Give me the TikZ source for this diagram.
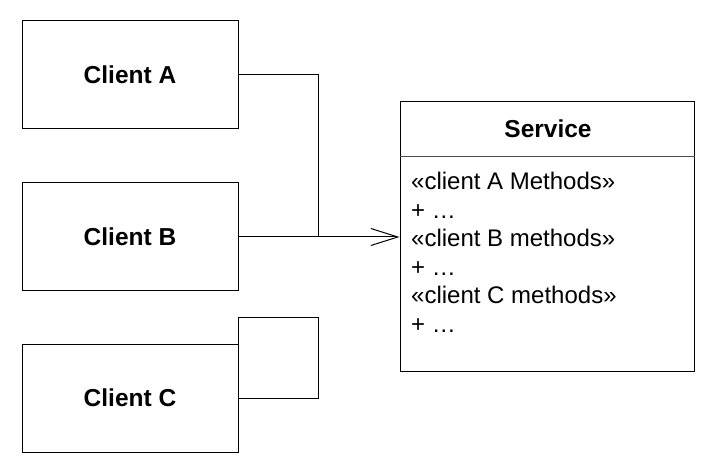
\documentclass[tikz,border=0pt]{standalone}
\usepackage{fontspec}
\setmainfont{Liberation Sans}
\usetikzlibrary{arrows.meta}

\tikzset{
  client/.style={draw, line width=1pt, minimum width=216pt, minimum height=108pt,
    inner sep=0pt, font=\fontsize{24.5}{28}\selectfont\bfseries},
  classbox/.style={draw, line width=1pt, minimum width=294pt, minimum height=269pt,
    inner sep=0pt},
  member/.style={anchor=base west, inner sep=0pt, font=\fontsize{24}{28}\selectfont},
  link/.style={line width=1pt}
}

\begin{document}
\begin{tikzpicture}[x=1pt,y=-1pt]
  \useasboundingbox (0,0) rectangle (720,470);

  % clients
  \node[client] (clientA) at (130,75) {Client A};
  \node[client] (clientB) at (130,237) {Client B};
  \node[client] (clientC) at (130,398) {Client C};

  % service class
  \node[classbox] (service) at (547,236.5) {};
  \node[font=\fontsize{24.5}{28}\selectfont\bfseries] (title) at (548,129) {Service};
  \draw[line width=0.6pt, black!70] (service.west |- 0,156) -- (service.east |- 0,156);

  \foreach \txt [count=\i] in {«client A Methods», + \ldots, «client B methods»,
      + \ldots, «client C methods», + \ldots}
    \node[member] (m\i) at (411,161+28.6*\i) {\txt};

  % connectors
  \coordinate (join) at (318,237);
  \coordinate (loop) at (318,317);
  \draw[link] (clientA.east) -| (join);
  \draw[link, -{Straight Barb[length=27pt, width=17pt]}] (clientB.east) -- (clientB.east -| service.west);
  \draw[link] (clientC.east) -| (loop) -- (loop -| clientC.east) -- (clientC.north east);
\end{tikzpicture}
\end{document}
